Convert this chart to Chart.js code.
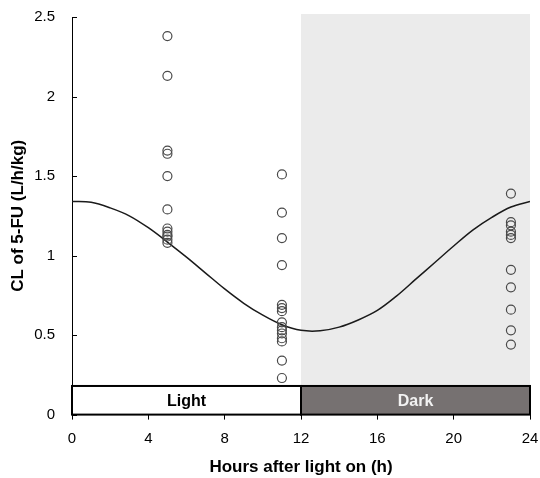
<!DOCTYPE html>
<html>
<head>
<meta charset="utf-8">
<script src="https://cdn.jsdelivr.net/npm/chart.js@4.4.1/dist/chart.umd.min.js"></script>
<style>
  html, body { margin: 0; padding: 0; background: #fff; }
  #wrap { width: 540px; height: 478px; }
</style>
</head>
<body>
<div id="wrap"><canvas id="clChart"></canvas></div>
<script>
// observed clearance per animal, grouped by dosing time (hours after light on)
const doseHours = [5, 11, 23];
const clAt5h  = [2.38, 2.13, 1.66, 1.64, 1.50, 1.29, 1.17, 1.15, 1.13, 1.12, 1.10, 1.08];
const clAt11h = [1.51, 1.27, 1.11, 0.94, 0.69, 0.67, 0.65, 0.58, 0.55, 0.53, 0.51, 0.48, 0.46, 0.34, 0.23];
const clAt23h = [1.39, 1.21, 1.19, 1.15, 1.13, 1.11, 0.91, 0.80, 0.66, 0.53, 0.44];

// fitted rhythm curve
const curveHours = [0, 1, 2, 3, 4, 5, 6, 7, 8, 9, 10, 11, 12, 13, 14, 15, 16, 17, 18, 19, 20, 21, 22, 23, 24];
const curveCL    = [1.34, 1.335, 1.30, 1.25, 1.175, 1.085, 0.99, 0.89, 0.79, 0.70, 0.625, 0.565, 0.53, 0.527, 0.55, 0.595, 0.655, 0.745, 0.85, 0.955, 1.06, 1.16, 1.24, 1.305, 1.34];

// light / dark phases
const phaseNames = ['Light', 'Dark'];
const phaseStart = [0, 12];
const phaseEnd   = [12, 24];

const xTicks = [0, 4, 8, 12, 16, 20, 24];
const yTicks = [0, 0.5, 1, 1.5, 2, 2.5];

const points = [];
[clAt5h, clAt11h, clAt23h].forEach((vals, i) => {
  vals.forEach(v => points.push({ x: doseHours[i], y: v }));
});
const curve = curveHours.map((h, i) => ({ x: h, y: curveCL[i] }));

const FONT = '"Liberation Sans", Arial, sans-serif';

const phasePlugin = {
  id: 'phases',
  beforeDatasetsDraw(chart) {
    const { ctx, chartArea, scales: { x, y } } = chart;
    const barTop = y.getPixelForValue(0.18);
    const barBot = y.getPixelForValue(0);
    ctx.save();
    // grey shading for the dark phase
    const ds = x.getPixelForValue(phaseStart[1]);
    const de = x.getPixelForValue(phaseEnd[1]);
    ctx.fillStyle = '#ebebeb';
    ctx.fillRect(ds, chartArea.top - 3, de - ds, barTop - chartArea.top + 3);
    // phase boxes
    phaseNames.forEach((name, i) => {
      const l = x.getPixelForValue(phaseStart[i]);
      const r = x.getPixelForValue(phaseEnd[i]);
      ctx.fillStyle = i === 0 ? '#ffffff' : '#767171';
      ctx.fillRect(l, barTop, r - l, barBot - barTop);
      ctx.lineWidth = 2;
      ctx.strokeStyle = '#000';
      ctx.strokeRect(l, barTop, r - l, barBot - barTop);
      ctx.fillStyle = i === 0 ? '#000' : '#f2f2f2';
      ctx.font = 'bold 16px ' + FONT;
      ctx.textAlign = 'center';
      ctx.textBaseline = 'middle';
      ctx.fillText(name, (l + r) / 2, (barTop + barBot) / 2 + 1);
    });
    ctx.restore();
  },
  afterDraw(chart) {
    // inward tick marks on the y axis
    const { ctx, scales: { x, y } } = chart;
    ctx.save();
    ctx.strokeStyle = '#000';
    ctx.lineWidth = 1;
    yTicks.forEach(v => {
      const py = Math.round(y.getPixelForValue(v)) + 0.5;
      ctx.beginPath();
      ctx.moveTo(x.left, py);
      ctx.lineTo(x.left + 5, py);
      ctx.stroke();
    });
    ctx.restore();
  }
};

new Chart(document.getElementById('clChart'), {
  type: 'scatter',
  data: {
    datasets: [
      {
        label: 'Fitted',
        data: curve,
        showLine: true,
        borderColor: '#1a1a1a',
        borderWidth: 1.5,
        pointRadius: 0,
        tension: 0.35,
        order: 2
      },
      {
        label: 'Observed',
        data: points,
        pointRadius: 4.5,
        pointBorderWidth: 1.2,
        pointBorderColor: '#4a4a4a',
        pointBackgroundColor: 'rgba(0,0,0,0)',
        order: 1
      }
    ]
  },
  options: {
    responsive: true,
    maintainAspectRatio: false,
    animation: false,
    layout: { padding: { top: 17, right: 10, bottom: 0, left: 0 } },
    plugins: { legend: { display: false }, tooltip: { enabled: false } },
    scales: {
      x: {
        type: 'linear',
        min: 0, max: 24,
        afterBuildTicks: s => { s.ticks = xTicks.map(v => ({ value: v })); },
        afterFit: s => { s.paddingLeft = 0; s.paddingRight = 0; },
        grid: { drawOnChartArea: false, drawTicks: true, tickLength: 5, color: '#000' },
        border: { color: '#000', width: 1 },
        ticks: { color: '#000', font: { family: FONT, size: 15 }, padding: 10, maxRotation: 0 },
        title: {
          display: true, text: 'Hours after light on (h)', color: '#000',
          font: { family: FONT, size: 17, weight: 'bold' }, padding: { top: 0, bottom: 0 }
        }
      },
      y: {
        min: 0, max: 2.5,
        afterBuildTicks: s => { s.ticks = yTicks.map(v => ({ value: v })); },
        afterFit: s => { s.width = 72; s.paddingTop = 0; s.paddingBottom = 0; },
        grid: { drawOnChartArea: false, drawTicks: false },
        border: { color: '#000', width: 1 },
        ticks: { color: '#000', font: { family: FONT, size: 15 }, padding: 17, callback: v => String(v) },
        title: {
          display: true, text: 'CL of 5-FU (L/h/kg)', color: '#000',
          font: { family: FONT, size: 17, weight: 'bold' }, padding: { top: 8, bottom: 0 }
        }
      }
    }
  },
  plugins: [phasePlugin]
});
</script>
</body>
</html>
